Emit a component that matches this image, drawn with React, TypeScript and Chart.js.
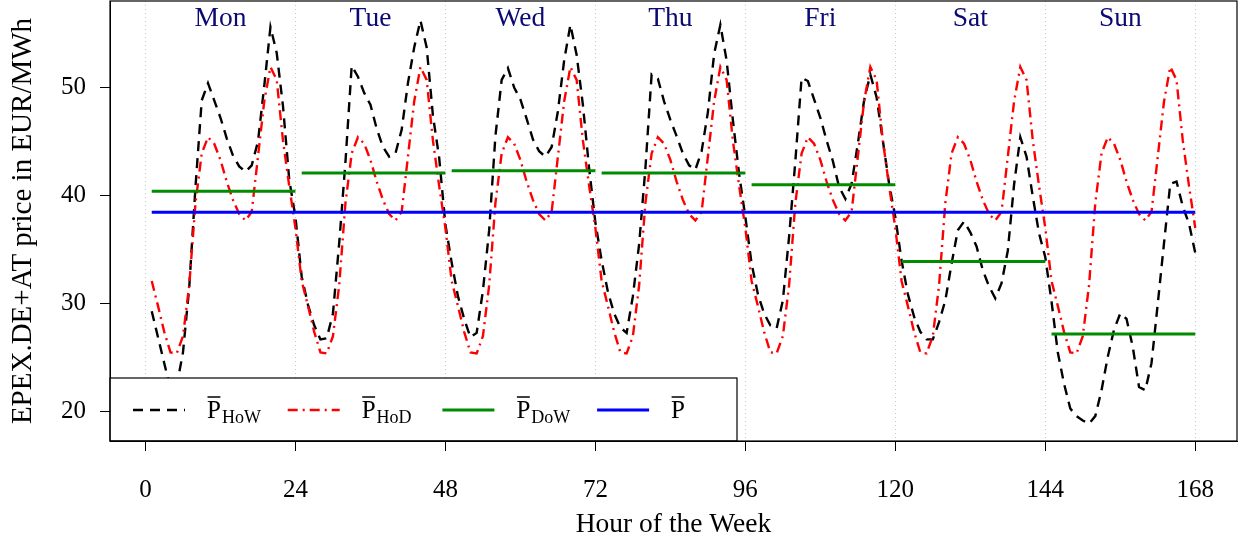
import React, { useEffect, useRef } from "react";
import { Chart, registerables } from "chart.js";

Chart.register(...registerables);

// ---- data ----
const dayNames = ["Mon", "Tue", "Wed", "Thu", "Fri", "Sat", "Sun"];

// hour-of-week mean prices (EUR/MWh), one array per day, hours 1..24
const howMon = [29.3, 26.9, 24.5, 22.1, 22.4, 25.5, 31.5, 40.8, 48.8, 50.4, 48.8, 47.2, 45.3, 43.7, 42.7, 42.2, 42.8, 45.0, 50.1, 55.6, 53.2, 48.3, 41.5, 38.0];
const howTue = [32.5, 29.9, 28.0, 26.7, 26.8, 29.1, 35.6, 43.1, 52.0, 51.0, 49.5, 48.4, 46.2, 44.5, 43.6, 43.9, 46.1, 50.4, 53.7, 56.2, 53.7, 47.4, 43.5, 37.3];
const howWed = [33.8, 30.7, 28.6, 26.9, 27.3, 31.2, 36.8, 45.5, 50.7, 51.8, 50.0, 48.9, 47.1, 45.2, 44.1, 43.6, 44.5, 47.8, 52.5, 55.8, 53.0, 48.4, 42.5, 37.5];
const howThu = [34.0, 31.1, 29.1, 27.8, 27.3, 30.7, 35.5, 42.5, 51.2, 50.8, 48.7, 47.0, 45.5, 43.9, 42.8, 42.4, 44.1, 47.7, 53.1, 55.8, 52.5, 47.0, 42.0, 38.0];
const howFri = [33.7, 30.9, 29.1, 28.0, 27.7, 30.3, 36.2, 43.2, 50.9, 50.6, 48.9, 47.2, 45.1, 43.2, 40.8, 39.7, 41.1, 44.8, 48.8, 51.2, 49.1, 45.1, 41.1, 38.0];
const howSat = [34.0, 30.9, 28.8, 27.4, 26.7, 26.7, 28.3, 30.3, 33.7, 36.8, 37.6, 36.6, 35.3, 33.1, 31.6, 30.5, 31.9, 34.9, 41.0, 45.4, 43.6, 39.9, 36.5, 34.3];
const howSun = [30.2, 25.5, 22.6, 20.3, 19.6, 19.2, 18.9, 19.6, 22.0, 25.1, 27.6, 29.1, 28.6, 26.0, 22.3, 22.0, 24.5, 30.0, 35.6, 41.1, 41.3, 39.0, 37.4, 34.7];

// hour-of-day mean profile (same for every day)
const hodProfile = [32.1, 29.8, 27.4, 25.5, 25.4, 27.0, 31.7, 39.3, 43.9, 45.4, 44.8, 43.3, 41.3, 39.6, 38.3, 37.7, 38.5, 43.6, 48.7, 51.9, 50.7, 45.1, 40.9, 37.0];

// day-of-week means
const dowMean = [40.4, 42.1, 42.3, 42.1, 41.0, 33.9, 27.2];

// overall mean
const overallMean = 38.45;

const xTickValues = [0, 24, 48, 72, 96, 120, 144, 168];
const yTickValues = [20, 30, 40, 50];
const legendSubscripts = ["HoW", "HoD", "DoW", ""];

// ---- styles ----
const SERIF = '"Liberation Serif", "Times New Roman", serif';
const BLACK_DASH = [10, 7];
const RED_DASH = [10, 5, 2, 5];
const GREEN = "#008b00";
const BLUE = "#0000ff";
const RED = "#ff0000";
const NAVY = "#0a0a72";

const howAll = [howMon, howTue, howWed, howThu, howFri, howSat, howSun].flat();
const howData = howAll.map((v, i) => ({ x: i + 1, y: v }));
const hodData = dayNames.flatMap((_, d) => hodProfile.map((v, j) => ({ x: d * 24 + j + 1, y: v })));
const dowData = dowMean.flatMap((v, d) => [
  { x: d * 24 + 1, y: v },
  { x: d * 24 + 24, y: v },
  { x: d * 24 + 24.5, y: null as any },
]);
const meanData = [
  { x: 1, y: overallMean },
  { x: 168, y: overallMean },
];

const framePlugin = {
  id: "frame",
  afterDraw(chart: any) {
    const { ctx, chartArea } = chart;
    ctx.save();
    ctx.strokeStyle = "#000";
    ctx.lineWidth = 1.2;
    ctx.strokeRect(chartArea.left, chartArea.top, chartArea.right - chartArea.left, chartArea.bottom - chartArea.top);
    ctx.restore();
  },
};

const dayLabelPlugin = {
  id: "dayLabels",
  afterDatasetsDraw(chart: any) {
    const { ctx } = chart;
    const xs = chart.scales.x;
    ctx.save();
    ctx.fillStyle = NAVY;
    ctx.font = `27.5px ${SERIF}`;
    ctx.textAlign = "center";
    ctx.textBaseline = "alphabetic";
    dayNames.forEach((name, d) => {
      ctx.fillText(name, xs.getPixelForValue(d * 24 + 12), 26);
    });
    ctx.restore();
  },
};

const legendPlugin = {
  id: "customLegend",
  afterDatasetsDraw(chart: any) {
    const { ctx, chartArea } = chart;
    const left = chartArea.left;
    const bottom = chartArea.bottom;
    const boxW = 627;
    const boxH = 63;
    ctx.save();
    ctx.fillStyle = "#ffffff";
    ctx.fillRect(left, bottom - boxH, boxW, boxH);
    ctx.strokeStyle = "#000";
    ctx.lineWidth = 1.2;
    ctx.strokeRect(left, bottom - boxH, boxW, boxH);

    const styles = [
      { color: "#000", dash: BLACK_DASH, width: 2.4 },
      { color: RED, dash: RED_DASH, width: 2.4 },
      { color: GREEN, dash: [], width: 3 },
      { color: BLUE, dash: [], width: 3 },
    ];
    const lineY = bottom - 31;
    styles.forEach((s, k) => {
      const sx = left + 23 + k * 154.7;
      ctx.strokeStyle = s.color;
      ctx.lineWidth = s.width;
      ctx.setLineDash(s.dash);
      ctx.beginPath();
      ctx.moveTo(sx, lineY);
      ctx.lineTo(sx + 52, lineY);
      ctx.stroke();
      ctx.setLineDash([]);

      const px = sx + 74;
      ctx.fillStyle = "#000";
      ctx.font = `25px ${SERIF}`;
      ctx.textAlign = "left";
      ctx.textBaseline = "alphabetic";
      ctx.fillText("P", px, bottom - 23);
      const w = ctx.measureText("P").width;
      ctx.strokeStyle = "#000";
      ctx.lineWidth = 1.5;
      ctx.beginPath();
      ctx.moveTo(px + 0.5, bottom - 44);
      ctx.lineTo(px + w - 0.5, bottom - 44);
      ctx.stroke();
      if (legendSubscripts[k]) {
        ctx.font = `18px ${SERIF}`;
        ctx.fillText(legendSubscripts[k], px + w + 1, bottom - 18);
      }
    });
    ctx.restore();
  },
};

export default function App() {
  const canvasRef = useRef<HTMLCanvasElement | null>(null);

  useEffect(() => {
    const canvas = canvasRef.current;
    if (!canvas) return;
    const chart = new Chart(canvas, {
      type: "line",
      data: {
        datasets: [
          {
            label: "P_HoW",
            data: howData,
            borderColor: "#000",
            borderWidth: 2.4,
            borderDash: BLACK_DASH,
            pointRadius: 0,
            tension: 0,
            fill: false,
            order: 3,
          },
          {
            label: "P_HoD",
            data: hodData,
            borderColor: RED,
            borderWidth: 2.4,
            borderDash: RED_DASH,
            pointRadius: 0,
            tension: 0,
            fill: false,
            order: 2,
          },
          {
            label: "P_DoW",
            data: dowData,
            borderColor: GREEN,
            borderWidth: 3,
            pointRadius: 0,
            spanGaps: false,
            fill: false,
            order: 1,
          },
          {
            label: "P",
            data: meanData,
            borderColor: BLUE,
            borderWidth: 3,
            pointRadius: 0,
            fill: false,
            order: 0,
          },
        ],
      },
      options: {
        responsive: false,
        animation: false,
        devicePixelRatio: 1,
        layout: { padding: { top: 1, right: 8, bottom: 0, left: 0 } },
        plugins: {
          legend: { display: false },
          tooltip: { enabled: false },
        },
        scales: {
          x: {
            type: "linear",
            min: -5.68,
            max: 174.68,
            afterBuildTicks: (scale: any) => {
              scale.ticks = xTickValues.map((v) => ({ value: v }));
            },
            afterFit: (scale: any) => {
              scale.height = 108;
              scale.paddingLeft = 0;
              scale.paddingRight = 0;
              scale.paddingTop = 0;
              scale.paddingBottom = 0;
            },
            ticks: {
              font: { family: SERIF, size: 25 },
              color: "#000",
              padding: 24,
              maxRotation: 0,
              autoSkip: false,
            },
            grid: {
              drawOnChartArea: true,
              color: "#c8c8c8",
              lineWidth: 1,
              drawTicks: true,
              tickLength: 10,
              tickColor: "#000",
              tickWidth: 1,
              tickBorderDash: [],
            } as any,
            border: { display: true, color: "#000", width: 1, dash: [1, 3] },
            title: {
              display: true,
              text: "Hour of the Week",
              font: { family: SERIF, size: 27.5 },
              color: "#000",
              padding: { top: 0, bottom: 7.5 },
            },
          },
          y: {
            type: "linear",
            min: 17.3,
            max: 58.0,
            afterBuildTicks: (scale: any) => {
              scale.ticks = yTickValues.map((v) => ({ value: v }));
            },
            afterFit: (scale: any) => {
              scale.width = 110;
              scale.paddingLeft = 0;
              scale.paddingRight = 0;
              scale.paddingTop = 0;
              scale.paddingBottom = 0;
            },
            ticks: {
              font: { family: SERIF, size: 25 },
              color: "#000",
              padding: 14,
            },
            grid: {
              drawOnChartArea: false,
              drawTicks: true,
              tickLength: 10,
              tickColor: "#000",
              tickWidth: 1,
            },
            border: { display: true, color: "#000", width: 1 },
            title: {
              display: true,
              text: "EPEX.DE+AT price in EUR/MWh",
              font: { family: SERIF, size: 29 },
              color: "#000",
              padding: { top: 6, bottom: 0 },
            },
          },
        },
      },
      plugins: [dayLabelPlugin, legendPlugin, framePlugin],
    });
    return () => {
      chart.destroy();
    };
  }, []);

  return (
    <div style={{ position: "absolute", left: 0, top: 0, width: 1245, height: 549, background: "#fff" }}>
      <canvas ref={canvasRef} width={1245} height={549} style={{ display: "block" }} />
    </div>
  );
}
